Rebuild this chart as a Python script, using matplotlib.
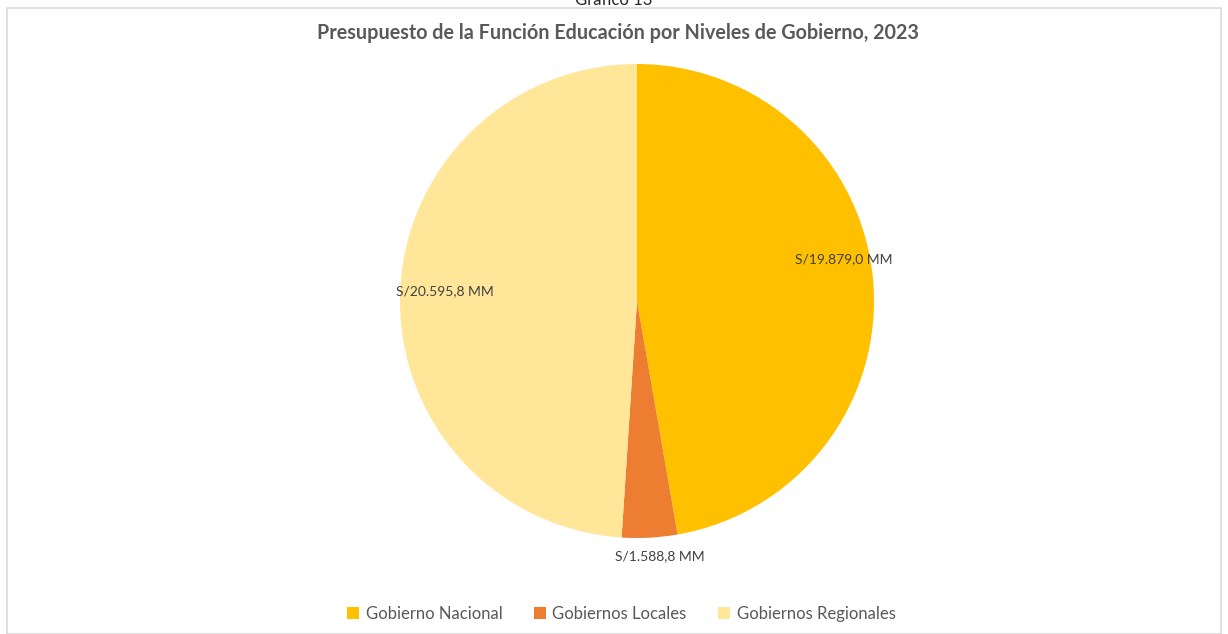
import numpy as np
import matplotlib
matplotlib.use("Agg")
import matplotlib.pyplot as plt
from matplotlib.patches import Rectangle

plt.rcParams['font.family'] = ['Lato', 'DejaVu Sans']

# data
niveles = ['Gobierno Nacional', 'Gobiernos Locales', 'Gobiernos Regionales']
montos = [19879.0, 1588.8, 20595.8]
etiquetas = ['S/19.879,0 MM', 'S/1.588,8 MM', 'S/20.595,8 MM']
colores = ['#FFC000', '#ED7D31', '#FFE699']

W, H = 1228, 634
fig = plt.figure(figsize=(W / 100, H / 100), dpi=100)

# chart frame (Excel style)
fig.patches.append(Rectangle((7 / W, 0), 1214 / W, 1 - 8 / H, transform=fig.transFigure,
                             fill=False, edgecolor='#D9D9D9', lw=1.2))
fig.text(0.5, 1 - 5 / H, 'Gráfico 13', ha='center', va='baseline', fontsize=12, color='#262626')

fig.text(0.503, 1 - 33 / H, 'Presupuesto de la Función Educación por Niveles de Gobierno, 2023',
         ha='center', va='center', fontsize=14.2, fontweight='bold', color='#595959')

ax = fig.add_axes([400 / W, 96 / H, 474 / W, 474 / H])
wedges, _ = ax.pie(montos, colors=colores, startangle=90, counterclock=False,
                   wedgeprops=dict(linewidth=0))
ax.set_xlim(-1, 1)
ax.set_ylim(-1, 1)
ax.set_aspect('equal')
ax.axis('off')

# label placement: (radius, angle offset in degrees) per wedge
ajustes = [(0.89, 6.5), (1.08, 2.0), (0.81, -1.0)]
for w, txt, (r, dth) in zip(wedges, etiquetas, ajustes):
    th = np.deg2rad((w.theta1 + w.theta2) / 2 + dth)
    ax.text(r * np.cos(th), r * np.sin(th), txt, ha='center', va='center',
            fontsize=10, color='#404040', clip_on=False)

leg = fig.legend(wedges, niveles, loc='center', bbox_to_anchor=(0.506, 1 - 614 / H),
                 ncol=3, frameon=False, fontsize=12, handlelength=0.7, handleheight=0.7,
                 handletextpad=0.4, columnspacing=1.9)
for t in leg.get_texts():
    t.set_color('#595959')

fig.savefig('out.png', dpi=100)
